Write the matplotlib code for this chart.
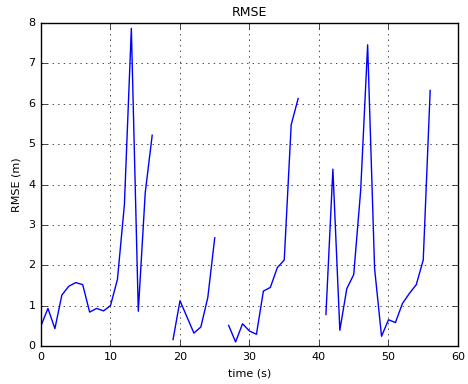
import numpy as np
import matplotlib
matplotlib.use("Agg")
import matplotlib.pyplot as plt

nan = np.nan
time_s = list(range(0, 57))
rmse = [0.50, 0.93, 0.43, 1.26, 1.48, 1.57, 1.52, 0.84, 0.93, 0.87,
        1.00, 1.65, 3.50, 7.87, 0.86, 3.80, 5.22, nan, nan, 0.16,
        1.12, 0.72, 0.32, 0.47, 1.20, 2.68, nan, 0.51, 0.10, 0.55,
        0.37, 0.29, 1.36, 1.45, 1.94, 2.13, 5.48, 6.13, nan, nan,
        nan, 0.78, 4.38, 0.39, 1.42, 1.77, 3.86, 7.46, 1.92, 0.24,
        0.65, 0.58, 1.05, 1.30, 1.52, 2.13, 6.33]

plt.style.use('classic')
plt.rcParams['font.family'] = ['DejaVu Sans']

fig = plt.figure(figsize=(4.68, 3.84), dpi=100)
ax = fig.add_axes([0.0876, 0.099, 0.891, 0.841])
ax.plot(time_s, rmse, color='b', linewidth=1)
ax.set_xlim(0, 60)
ax.set_ylim(0, 8)
ax.grid(True)
ax.set_title('RMSE', fontsize=9)
ax.set_xlabel('time (s)', fontsize=8)
ax.set_ylabel('RMSE (m)', fontsize=8)
ax.tick_params(labelsize=8)
fig.savefig('out.png', dpi=100)
